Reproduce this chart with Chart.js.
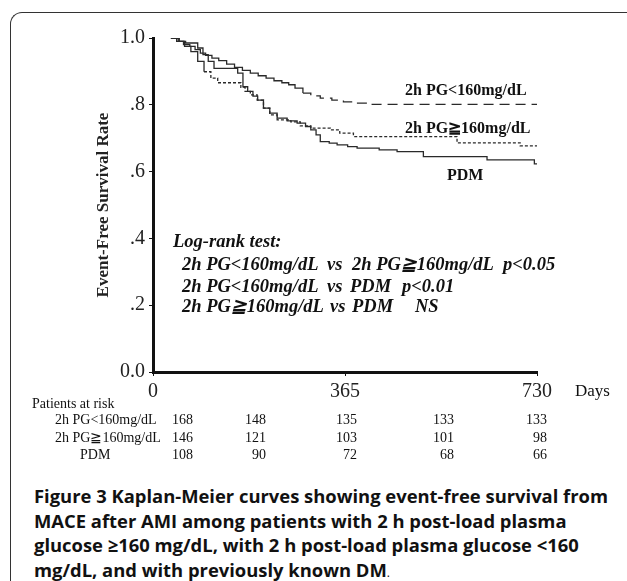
<!DOCTYPE html>
<html lang="en">
<head>
<meta charset="UTF-8">
<script src="https://cdn.jsdelivr.net/npm/chart.js"></script>
<title>Kaplan-Meier curves</title>
<style>
  body { margin: 0; width: 627px; height: 581px; overflow: hidden; background: #fff; position: relative; font-family: "Liberation Serif", serif; color: #111; }
  .frame { position: absolute; left: 10px; top: 12px; width: 660px; height: 620px; border-left: 1px solid #333; border-top: 1px solid #333; border-top-left-radius: 12px; }
  #wrap { position: absolute; left: 0; top: 0; width: 627px; height: 410px; }
  .t { position: absolute; white-space: pre; line-height: 1; }
  .lab { font-weight: bold; font-size: 16px; }
  .lr { font-weight: bold; font-style: italic; font-size: 18.5px; }
  .risk { font-size: 14px; }
  .caption { position: absolute; left: 34px; top: 484px; font-family: "Open Sans", sans-serif; font-weight: bold; font-size: 18.4px; line-height: 24.5px; color: #111; white-space: nowrap; }
</style>
</head>
<body>
  <div class="frame"></div>
  <div id="wrap"><canvas id="km" width="627" height="410"></canvas></div>

  <!-- curve labels -->
  <div class="t lab" style="left:405px; top:82px;">2h PG&lt;160mg/dL</div>
  <div class="t lab" style="left:405px; top:120px;">2h PG≧160mg/dL</div>
  <div class="t lab" style="left:447px; top:167px;">PDM</div>

  <!-- log-rank block -->
  <div class="t lr" style="left:173px; top:232px;">Log-rank test:</div>
  <div class="t lr" style="left:182px; top:255px;">2h PG&lt;160mg/dL</div>
  <div class="t lr" style="left:327px; top:255px;">vs</div>
  <div class="t lr" style="left:352px; top:255px;">2h PG≧160mg/dL</div>
  <div class="t lr" style="left:503px; top:255px;">p&lt;0.05</div>
  <div class="t lr" style="left:182px; top:277px;">2h PG&lt;160mg/dL</div>
  <div class="t lr" style="left:327px; top:277px;">vs</div>
  <div class="t lr" style="left:350px; top:277px;">PDM</div>
  <div class="t lr" style="left:402px; top:277px;">p&lt;0.01</div>
  <div class="t lr" style="left:182px; top:297px;">2h PG≧160mg/dL</div>
  <div class="t lr" style="left:330px; top:297px;">vs</div>
  <div class="t lr" style="left:352px; top:297px;">PDM</div>
  <div class="t lr" style="left:415px; top:297px;">NS</div>

  <div class="t" style="left:575px; top:382px; font-size:17px;">Days</div>
  <div class="t risk" style="left:32px; top:397px;">Patients at risk</div>
  <div id="risk"></div>

  <div class="caption">Figure 3 Kaplan-Meier curves showing event-free survival from<br>MACE after AMI among patients with 2 h post-load plasma<br>glucose ≥160 mg/dL, with 2 h post-load plasma glucose &lt;160<br>mg/dL, and with previously known DM<span style="font-weight:normal;font-size:12px">.</span></div>

  <script>
    // survival steps: day of drop, survival after the drop
    const lowDays  = [34, 45, 58, 70, 80, 90, 100, 112, 125, 140, 155, 170, 185, 200, 215, 230, 245, 258, 270, 285, 300, 318, 340, 362, 385, 410, 732];
    const lowSurv  = [1.0, 0.99, 0.98, 0.975, 0.965, 0.955, 0.948, 0.94, 0.932, 0.922, 0.912, 0.903, 0.895, 0.887, 0.88, 0.872, 0.866, 0.86, 0.85, 0.835, 0.827, 0.82, 0.814, 0.809, 0.805, 0.801, 0.801];

    const highDays = [34, 48, 60, 72, 85, 97, 110, 123, 167, 175, 185, 198, 210, 222, 236, 262, 280, 300, 337, 355, 381, 578, 698, 732];
    const highSurv = [1.0, 0.99, 0.975, 0.959, 0.93, 0.899, 0.88, 0.866, 0.852, 0.84, 0.83, 0.814, 0.79, 0.77, 0.755, 0.749, 0.737, 0.73, 0.725, 0.715, 0.705, 0.686, 0.677, 0.677];

    const pdmDays  = [34, 50, 62, 85, 95, 105, 116, 161, 171, 180, 190, 199, 210, 222, 236, 255, 274, 290, 300, 310, 318, 335, 350, 370, 388, 430, 464, 514, 635, 725, 732];
    const pdmSurv  = [1.0, 0.99, 0.985, 0.97, 0.95, 0.93, 0.909, 0.895, 0.854, 0.84, 0.826, 0.814, 0.79, 0.775, 0.76, 0.752, 0.745, 0.735, 0.725, 0.71, 0.69, 0.685, 0.68, 0.675, 0.67, 0.665, 0.66, 0.645, 0.635, 0.623, 0.623];

    const xTickVals = [0, 365, 730];
    const xTickLabels = ['0', '365', '730'];
    const yTickVals = [0, 0.2, 0.4, 0.6, 0.8, 1.0];
    const yTickLabels = ['0.0', '.2', '.4', '.6', '.8', '1.0'];

    const riskGroups = ['2h PG<160mg/dL', '2h PG≧160mg/dL', 'PDM'];
    const riskCounts = [
      [168, 148, 135, 133, 133],
      [146, 121, 103, 101, 98],
      [108, 90, 72, 68, 66]
    ];

    // risk table
    const riskBox = document.getElementById('risk');
    const rowTop = [413, 431, 448];
    const labelLeft = [55, 55, 80];
    const colRight = [193, 266, 357, 454, 547];
    riskGroups.forEach(function(g, r) {
      let d = document.createElement('div');
      d.className = 't risk';
      d.style.left = labelLeft[r] + 'px';
      d.style.top = rowTop[r] + 'px';
      d.textContent = g;
      riskBox.appendChild(d);
      riskCounts[r].forEach(function(n, c) {
        let e = document.createElement('div');
        e.className = 't risk';
        e.style.right = (627 - colRight[c]) + 'px';
        e.style.top = rowTop[r] + 'px';
        e.textContent = n;
        riskBox.appendChild(e);
      });
    });

    function pts(xs, ys) {
      return xs.map((x, i) => ({x: x, y: ys[i]}));
    }

    Chart.defaults.font.family = '"Liberation Serif", serif';
    const ink = '#2a2a2a';

    new Chart(document.getElementById('km'), {
      type: 'line',
      data: {
        datasets: [
          {
            label: '2h PG<160mg/dL',
            data: pts(lowDays, lowSurv),
            stepped: true,
            borderColor: ink,
            borderWidth: 1.3,
            pointRadius: 0,
            segment: { borderDash: c => c.p0.parsed.x >= 285 ? [10, 6] : [] }
          },
          {
            label: '2h PG≧160mg/dL',
            data: pts(highDays, highSurv),
            stepped: true,
            borderColor: ink,
            borderWidth: 1.3,
            pointRadius: 0,
            segment: { borderDash: c => c.p0.parsed.x >= 90 ? [3, 2] : [] }
          },
          {
            label: 'PDM',
            data: pts(pdmDays, pdmSurv),
            stepped: true,
            borderColor: ink,
            borderWidth: 1.3,
            pointRadius: 0
          }
        ]
      },
      options: {
        responsive: false,
        animation: false,
        layout: { padding: { top: 38, right: 90, left: 0, bottom: 0 } },
        plugins: { legend: { display: false }, tooltip: { enabled: false } },
        scales: {
          x: {
            type: 'linear',
            min: 0,
            max: 730,
            afterBuildTicks: s => { s.ticks = xTickVals.map(v => ({value: v})); },
            afterFit: s => { s.height = 38; },
            ticks: {
              callback: (v, i) => xTickLabels[i],
              font: { size: 20 },
              color: '#222',
              padding: 4,
              maxRotation: 0
            },
            grid: { display: true, drawOnChartArea: false, drawTicks: true, tickLength: 4, color: '#111' },
            border: { display: true, color: '#111', width: 3 }
          },
          y: {
            min: 0,
            max: 1,
            afterBuildTicks: s => { s.ticks = yTickVals.map(v => ({value: v})); },
            afterFit: s => { s.width = 153; },
            ticks: {
              callback: (v, i) => yTickLabels[i],
              font: { size: 20 },
              color: '#222',
              padding: 4
            },
            grid: { display: true, drawOnChartArea: false, drawTicks: true, tickLength: 4, color: '#111' },
            border: { display: true, color: '#111', width: 3 },
            title: {
              display: true,
              text: 'Event-Free Survival Rate',
              font: { size: 17, weight: 'bold' },
              color: '#222',
              padding: { top: 93, bottom: 0 }
            }
          }
        }
      }
    });
  </script>
</body>
</html>
